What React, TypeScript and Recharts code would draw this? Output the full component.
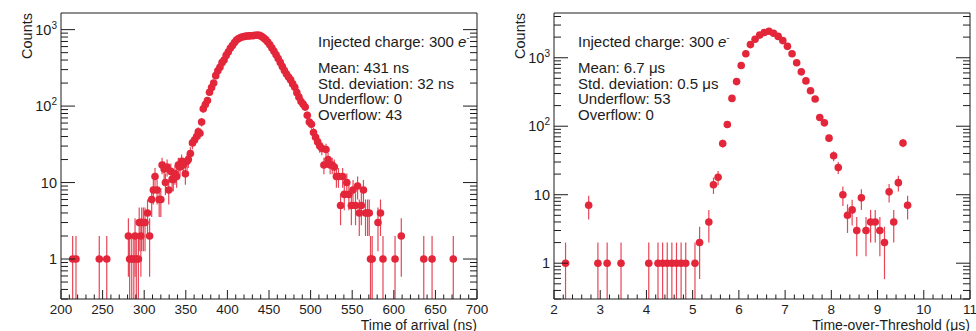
import React from "react"
import { ErrorBar, Scatter, ScatterChart, XAxis, YAxis } from "recharts"

const RED = "#e3263a"
const INK = "#1c1c1c"
const FONT = "'Liberation Sans', Arial, Helvetica, sans-serif"

// time of arrival (ns) histogram
const toaTimes = [
  214, 218, 246, 255, 281, 282.5, 285, 287.5, 289, 290.5, 293, 294, 296, 297, 299, 301, 304, 306.5, 309, 311,
  313, 315.5, 318, 320, 321.5, 324, 325.5, 327.5, 329.5, 332, 333.5, 335, 337, 339, 341, 343, 345, 347, 349.5,
  351.5, 353, 355.5, 358, 360.5, 363, 365, 367, 369, 371, 373.5, 376, 378.5, 381, 383.5, 386, 388.5, 391, 393.5,
  396, 398.5, 401, 403.5, 406, 408.5, 411, 413.5, 416, 418.5, 421, 423.5, 426, 428.5, 431, 433.5, 436, 438.5,
  441, 443.5, 446, 448.5, 451, 453.5, 456, 458.5, 461, 463.5, 466, 468.5, 471, 473.5, 476, 478.5, 481, 483.5,
  486, 488.5, 491, 493.5, 496, 498.5, 501, 503.5, 506, 508.5, 511, 513.5, 516, 518.5, 521, 523.5, 526, 528.5,
  531, 533.5, 536, 538.5, 540.5, 543.5, 546, 549, 551, 554, 556.5, 558.5, 561, 563.5, 566, 568.5, 570.5, 572,
  574, 581, 584, 587, 601.5, 609, 636, 646, 671.5,
]
const toaCounts = [
  1, 1, 1, 1, 2, 1, 1, 1, 2, 1, 1, 3, 2, 3, 3, 3, 4, 2, 6, 8,
  12, 8, 6, 6, 17, 15, 10, 16, 8, 14, 11, 11, 13, 12, 17, 16, 19, 17, 13,
  19, 20, 24, 33, 36, 40, 46, 44, 62, 92, 105, 118, 152, 175, 200, 250, 290, 322, 370,
  400, 460, 510, 570, 620, 680, 730, 765, 790, 808, 815, 825, 828, 830, 835, 845, 850, 840,
  815, 780, 740, 690, 635, 575, 520, 470, 420, 373, 330, 291, 262, 240, 220, 195, 176, 150,
  131, 115, 106, 97, 76, 62, 58, 45, 39, 34, 30, 28, 17, 27, 20, 17, 17, 16,
  12, 12, 5, 12, 7, 10, 7, 5, 8, 5, 9, 4, 5, 8, 4, 4, 4, 1,
  1, 3, 4, 1, 1, 2, 1, 1, 1,
]
const toaMajorTicks = [200, 250, 300, 350, 400, 450, 500, 550, 600, 650, 700]
const toaStats = ["Mean: 431 ns", "Std. deviation: 32 ns", "Underflow: 0", "Overflow: 43"]

// time-over-threshold (us) histogram
const totTimes = [
  2.25, 2.75, 2.95, 3.15, 3.45, 4.05, 4.25, 4.35, 4.45, 4.55, 4.65, 4.75, 4.85, 5.05, 5.15, 5.35, 5.45, 5.55,
  5.65, 5.75, 5.85, 5.95, 6.05, 6.15, 6.25, 6.35, 6.45, 6.55, 6.65, 6.75, 6.85, 6.95, 7.05, 7.15, 7.25, 7.35,
  7.45, 7.55, 7.65, 7.75, 7.85, 7.95, 8.05, 8.15, 8.25, 8.35, 8.45, 8.55, 8.65, 8.75, 8.85, 8.95, 9.05, 9.15,
  9.25, 9.35, 9.45, 9.55, 9.65,
]
const totCounts = [
  1, 7, 1, 1, 1, 1, 1, 1, 1, 1, 1, 1, 1, 1, 2, 4, 14, 18,
  56, 106, 255, 448, 771, 1145, 1554, 1860, 2140, 2340, 2440, 2277, 2050, 1780, 1466, 1145, 844, 622,
  459, 330, 250, 134, 112, 67, 37, 25, 10, 5, 6, 3, 9, 3, 4, 4, 3, 2,
  11, 4, 15, 57, 7,
]
const totMajorTicks = [2, 3, 4, 5, 6, 7, 8, 9, 10, 11]
const totStats = ["Mean: 6.7 μs", "Std. deviation: 0.5 μs", "Underflow: 53", "Overflow: 0"]

const Y_MIN = 0.3

const isMajor = (v: number, majors: number[]) => majors.some((m) => Math.abs(m - v) < 1e-6)

function minorTicks(majors: number[]) {
  const out: number[] = []
  for (let i = 0; i < majors.length - 1; i++) {
    const step = (majors[i + 1] - majors[i]) / 5
    for (let k = 0; k < 5; k++) out.push(+(majors[i] + k * step).toFixed(4))
  }
  out.push(majors[majors.length - 1])
  return out
}

function logTicks(max: number) {
  const out: number[] = []
  for (const d of [0.1, 1, 10, 100, 1000]) {
    for (let m = 1; m < 10; m++) {
      const v = +(d * m).toFixed(4)
      if (v >= Y_MIN && v <= max) out.push(v)
    }
  }
  return out
}

const isDecade = (v: number) => [1, 10, 100, 1000].includes(v)

function logLabel(v: number) {
  if (v === 1) return "1"
  if (v === 10) return "10"
  return (
    <>
      10
      <tspan dy={-6} fontSize={10}>
        {v === 100 ? "2" : "3"}
      </tspan>
    </>
  )
}

type PanelProps = {
  times: number[]
  counts: number[]
  majors: number[]
  yMax: number
  left: number
  marginLeft: number
}

function Panel({ times, counts, majors, yMax, left, marginLeft }: PanelProps) {
  const data = times.map((t, i) => {
    const n = counts[i]
    const s = Math.sqrt(n)
    return { x: t, y: n, err: [n - Math.max(n - s, Y_MIN), s] }
  })
  const xTicks = minorTicks(majors)
  const yTicks = logTicks(yMax)
  const xDomain = [majors[0], majors[majors.length - 1]]

  // axes are 1px thick (recharts skips 0-sized axes); ticks point inward like ROOT
  const bottomTick = (p: any) => {
    const v = p.payload.value
    const major = isMajor(v, majors)
    return (
      <g>
        <line x1={p.x} x2={p.x} y1={p.y} y2={p.y - (major ? 9 : 4.5)} stroke={INK} />
        {major && (
          <text x={p.x} y={p.y + 14.5} textAnchor="middle" fontSize={13.5} fill={INK} fontFamily={FONT}>
            {v}
          </text>
        )}
      </g>
    )
  }
  const topTick = (p: any) => {
    const major = isMajor(p.payload.value, majors)
    return <line x1={p.x} x2={p.x} y1={p.y} y2={p.y + (major ? 8 : 4)} stroke={INK} />
  }
  const leftTick = (p: any) => {
    const v = p.payload.value
    const major = isDecade(v)
    return (
      <g>
        <line x1={p.x} x2={p.x + (major ? 14 : 7)} y1={p.y} y2={p.y} stroke={INK} />
        {major && (
          <text x={p.x - 4} y={p.y + 5} textAnchor="end" fontSize={14.5} fill={INK} fontFamily={FONT}>
            {logLabel(v)}
          </text>
        )}
      </g>
    )
  }
  const rightTick = (p: any) => {
    const major = isDecade(p.payload.value)
    return <line x1={p.x} x2={p.x - (major ? 14 : 7)} y1={p.y} y2={p.y} stroke={INK} />
  }

  const axisCommon = {
    allowDataOverflow: true,
    interval: 0 as const,
    tickSize: 0,
    tickMargin: 0,
    tickLine: false,
    axisLine: { stroke: INK },
  }

  return (
    <div style={{ position: "absolute", left, top: 0 }}>
      <ScatterChart
        width={488}
        height={331}
        margin={{ top: 12, left: marginLeft - 1, right: 72 - marginLeft - 1, bottom: 31 }}
      >
        <XAxis {...axisCommon} xAxisId="b" dataKey="x" type="number" domain={xDomain} ticks={xTicks} height={1} tick={bottomTick} />
        <XAxis {...axisCommon} xAxisId="t" orientation="top" type="number" domain={xDomain} ticks={xTicks} height={1} tick={topTick} />
        <YAxis
          {...axisCommon}
          yAxisId="l"
          dataKey="y"
          type="number"
          scale="log"
          domain={[Y_MIN, yMax]}
          ticks={yTicks}
          width={1}
          tick={leftTick}
        />
        <YAxis
          {...axisCommon}
          yAxisId="r"
          orientation="right"
          type="number"
          scale="log"
          domain={[Y_MIN, yMax]}
          ticks={yTicks}
          width={1}
          tick={rightTick}
        />
        <Scatter
          xAxisId="b"
          yAxisId="l"
          data={data}
          isAnimationActive={false}
          shape={(p: any) => <circle cx={p.cx} cy={p.cy} r={3.8} fill={RED} />}
        >
          <ErrorBar dataKey="err" direction="y" width={0} stroke={RED} strokeWidth={1.2} strokeOpacity={0.85} />
        </Scatter>
      </ScatterChart>
    </div>
  )
}

function Stats({ x, lines }: { x: number; lines: string[] }) {
  return (
    <g fontFamily={FONT} fontSize={15} fill={INK}>
      <text x={x} y={47}>
        Injected charge: 300 <tspan fontStyle="italic">e</tspan>
        <tspan dy={-6} fontSize={9}>
          -
        </tspan>
      </text>
      {lines.map((l, i) => (
        <text key={l} x={x} y={73 + i * 15.7}>
          {l}
        </text>
      ))}
    </g>
  )
}

export default function App() {
  return (
    <div style={{ position: "absolute", left: 0, top: 0, width: 976, height: 331, background: "#fff" }}>
      <Panel times={toaTimes} counts={toaCounts} majors={toaMajorTicks} yMax={1650} left={0} marginLeft={61} />
      <Panel times={totTimes} counts={totCounts} majors={totMajorTicks} yMax={4500} left={488} marginLeft={66} />
      <svg width={976} height={331} style={{ position: "absolute", left: 0, top: 0, pointerEvents: "none" }}>
        <Stats x={318} lines={toaStats} />
        <Stats x={578} lines={totStats} />
        <g fontFamily={FONT} fontSize={14} fill={INK}>
          <text x={477} y={329.5} textAnchor="end">
            Time of arrival (ns)
          </text>
          <text x={970} y={329.5} textAnchor="end">
            Time-over-Threshold (μs)
          </text>
          <text x={32} y={13} textAnchor="end" fontSize={14.5} transform="rotate(-90 32 13)">
            Counts
          </text>
          <text x={525} y={13} textAnchor="end" fontSize={14.5} transform="rotate(-90 525 13)">
            Counts
          </text>
        </g>
      </svg>
    </div>
  )
}
